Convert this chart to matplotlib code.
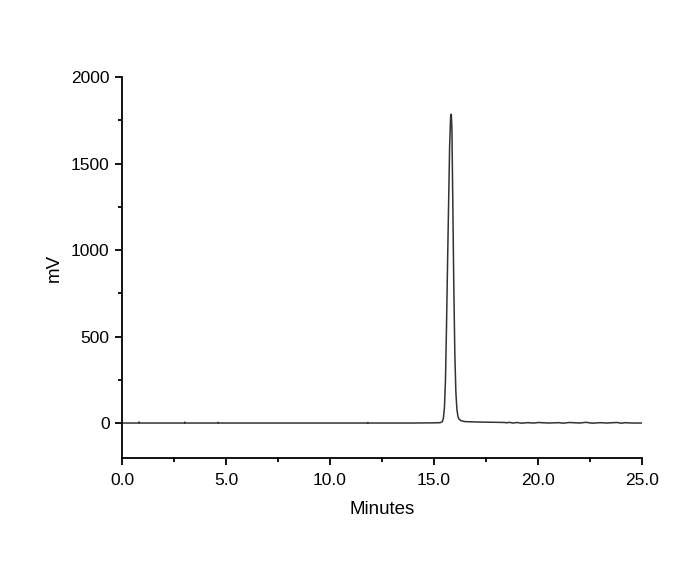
import matplotlib
matplotlib.use("Agg")
import matplotlib.pyplot as plt
from matplotlib.ticker import MultipleLocator, FormatStrFormatter

plt.rcParams['font.family'] = ['Liberation Sans', 'DejaVu Sans']

# ---- Data ----
minutes = [0.0, 0.8, 0.82, 0.84, 3.0, 3.02, 3.04, 4.6, 4.62, 4.64, 8.0, 11.8, 11.82, 11.84,
           14.0, 15.0, 15.3, 15.4, 15.45, 15.5, 15.55, 15.6, 15.65, 15.7, 15.75, 15.8,
           15.83, 15.86, 15.9, 15.95, 16.0, 16.05, 16.1, 16.15, 16.2, 16.3, 16.5, 16.8,
           17.0, 17.5, 18.0, 18.4, 18.5, 18.6, 18.8, 19.0, 19.2, 19.5, 19.8, 20.0, 20.5,
           21.0, 21.2, 21.5, 22.0, 22.3, 22.6, 23.0, 23.3, 23.8, 24.0, 24.2, 24.5, 25.0]
signal = [2, 2, 8, 2, 2, 7, 2, 2, 6, 2, 2, 2, 5, 2,
          2, 3, 4, 10, 30, 90, 250, 560, 920, 1260, 1600, 1780,
          1785, 1700, 1300, 800, 400, 180, 80, 40, 25, 15, 10, 9,
          8, 7, 6, 5, 3, 6, 2, 5, 1, 4, 2, 5, 2,
          4, 1, 5, 2, 6, 1, 4, 2, 5, 1, 4, 2, 2]

x_ticks = [0, 5, 10, 15, 20, 25]
y_ticks = [0, 500, 1000, 1500, 2000]

fig = plt.figure(figsize=(7.0, 5.61), dpi=100)
ax = fig.add_axes([0.1743, 0.1836, 0.7429, 0.6791])

ax.plot(minutes, signal, color="#333333", linewidth=1.1)

ax.set_xlim(0, 25)
ax.set_ylim(-200, 2000)
ax.set_xticks(x_ticks)
ax.set_yticks(y_ticks)
ax.xaxis.set_minor_locator(MultipleLocator(2.5))
ax.yaxis.set_minor_locator(MultipleLocator(250))
ax.xaxis.set_major_formatter(FormatStrFormatter("%.1f"))

for side in ("top", "right"):
    ax.spines[side].set_visible(False)
for side in ("left", "bottom"):
    ax.spines[side].set_linewidth(1.3)

ax.tick_params(which="major", direction="out", length=5, width=1.3, labelsize=12.5)
ax.tick_params(axis="y", which="major", pad=4)
ax.tick_params(axis="x", which="major", pad=6)
ax.tick_params(which="minor", direction="out", length=3, width=1.3)

ax.set_xlabel("Minutes", fontsize=13.5, labelpad=9)
ax.set_ylabel("mV", fontsize=13.5, labelpad=6)

fig.savefig("out.png", dpi=100)
